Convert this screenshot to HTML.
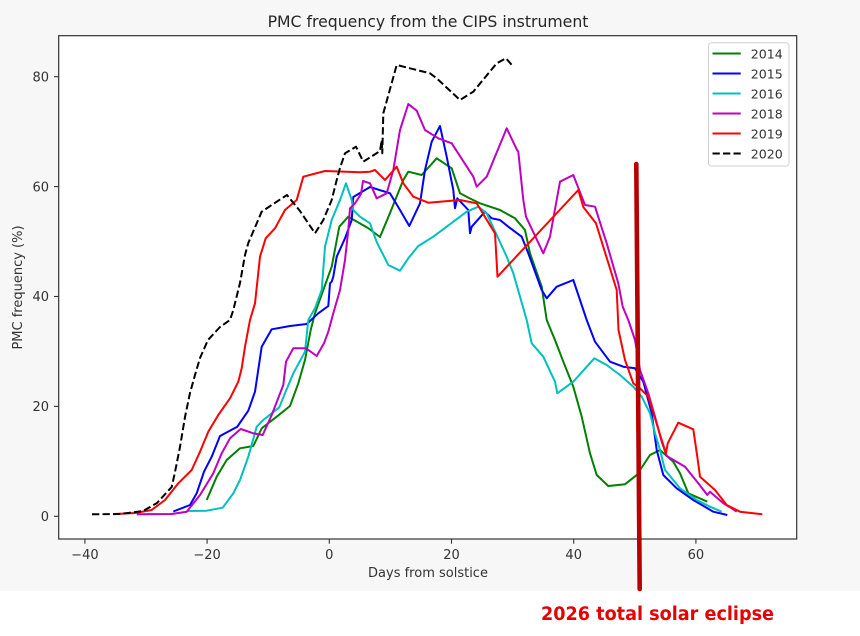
<!DOCTYPE html>
<html>
<head>
<meta charset="utf-8">
<style>
  html, body { margin: 0; padding: 0; background: #ffffff; }
  svg { display: block; }
  text { font-family: "DejaVu Sans", "Liberation Sans", sans-serif; }
</style>
</head>
<body>
<svg width="860" height="636" viewBox="0 0 860 636" xmlns="http://www.w3.org/2000/svg">
  <!-- figure background -->
  <rect x="0" y="0" width="860" height="636" fill="#ffffff"/>
  <rect x="0" y="0" width="860" height="591" fill="#f7f7f7"/>
  <!-- axes background -->
  <rect x="58.7" y="35.7" width="738" height="503.3" fill="#ffffff"/>

  <!-- title -->
  <text x="428" y="27" font-size="15.7" fill="#262626" text-anchor="middle">PMC frequency from the CIPS instrument</text>

  <!-- series -->
  <g fill="none" stroke-width="2" stroke-linejoin="round" stroke-linecap="butt">
    <!-- 2014 green -->
    <polyline stroke="#008000" points="206.7,500 216.7,476.7 226.7,460 240,448.3 253.3,446 261.7,428.3 276.7,416.7 290,406 298.3,383.3 305,360 310.7,330 315,313.3 323.3,290 331.7,266.7 339.3,226.7 348.3,216.7 368,228 380,237 390,213 403.3,180 408.3,171.7 421.7,175 436.7,158.3 451.7,168.3 460,193.3 470,198.5 480,203.3 500,210 515,218.3 525,230 530,253.3 541.7,286.7 546.7,320 555,340 563.3,361.7 573.3,386.7 581.7,416.7 590,453.3 596.7,475 608.3,486 625,484.3 636.7,475 650,455 660,450 673.3,461.7 680,473.3 688.3,493.3 707.3,501.7"/>
    <!-- 2015 blue -->
    <polyline stroke="#0000ff" points="173.3,511.5 190,505 196.7,493.3 204,471.7 211.7,456.7 220,436 237.3,426.7 248.3,410.7 255,391.7 261.7,346.7 271.7,329.3 290,326 306.7,324 318.3,313.3 328.3,306 330,283.3 331.7,281.7 333.3,276.7 336.7,256.7 345,238.3 351.7,220 353.3,197 370,187 390,193.3 400,210 409.3,226 420,203.3 425,170 431.7,141.7 440,126 446.7,156.7 453.3,190 455,208.3 457.3,198.3 468.3,210 470,233.3 471.7,226.7 485,211.7 491.7,218.3 500,220 508.3,226.7 515,231.7 521.7,236.7 528.3,253.3 535,271.7 541.7,290 546.7,298.3 556.7,286.7 573.3,280 586.7,320 595,341.7 610,361.7 623.3,366.7 635,368.3 643.3,381.7 651.7,413.3 656.7,450 663.3,475 676.7,488.3 693.3,500 713.3,511.7 727.3,515"/>
    <!-- 2016 cyan -->
    <polyline stroke="#00bfbf" points="186.7,511 206.7,510.7 222.7,507.7 233.3,493.3 240,480 248.3,456.7 256.7,426.7 263.3,420 279.3,407.3 285,393.3 293.3,373.3 305,351.7 308.3,320 315,308.3 321.7,290 325,246.7 331.7,220 340,200 346,183.3 351.7,200 353.3,210 360,216.7 370,223.3 376.7,242 388.3,265 400,270.7 408.3,258.3 418.3,246 433.3,236.7 466.7,211.7 478.3,206.7 486.7,213.3 496.7,235 506.7,256.7 513.3,273.3 526.7,320 531.7,343.3 543.3,356.7 555,381.7 557.3,393.3 573.3,381.7 594.3,358.3 606.7,365 620,375 633.3,386.7 641.7,396.7 650,413.3 655,433.3 660,450 665,470 680,488.3 696.7,500 710,506.7 721.7,511.7"/>
    <!-- 2018 magenta -->
    <polyline stroke="#bf00bf" points="136.7,514.3 171.7,514 186.7,511.7 200,495 213.3,473.3 221.7,453.3 230,438.3 240.7,429 253.3,433.3 262.7,435 271.7,415 283.3,385 286,361.7 293.3,348.3 306,348.3 316.7,356 324,343.3 328.3,331.7 333.3,313.3 340,290 345,260 348.3,230 350,208.3 355,203.3 361,194 363,181 370,183.3 376.7,198.3 386.7,193.3 393.3,170 400,130 408.3,104 416.7,110.7 425,130 438.3,138.3 451.7,143.3 473.3,176.7 476.7,186.7 486.7,176.7 506.7,128.3 516.7,149.3 518.3,151.7 523.3,200 526,216.7 543.3,253.3 550,236.7 560,181.7 573.3,175 585,205 595,206.7 606.7,243.3 618.3,283.3 622.7,306.7 628.3,320 635,340 640,370 648.3,393.3 655,416.7 661.7,441.7 666.7,456 685,466.7 698.3,483.3 707.3,495 710,491.7 723.3,503.3 731.7,508.3 736.7,511.7"/>
    <!-- 2019 red -->
    <polyline stroke="#ff0000" points="115,514 135,513 151.7,510 165,500 178.3,483.3 191.7,470 200,451.7 208.3,431.7 218.3,415 230,398.3 238.3,381.7 241.7,368.3 245,346.7 250,320 255,303.3 260,256.7 265.7,238.3 275,228.3 285,210 296.7,200 303.3,176.7 325,171 360,172.3 370,171.7 375,170 385,180 396.7,166.7 403.3,183.3 413.3,196.7 428.3,202.7 460,200 476.7,203.3 495,233.3 497.5,276.7 578.3,190 583.3,207 596,223.3 616.7,290 618.5,330 625,360 633.3,383.3 640,388.3 648.3,396.7 655,418.3 661.7,440 666,453.3 667.7,443.3 678.3,422.7 693.3,429.3 697.3,456.7 700,476.7 715,490 726.7,505 740,511.7 762.3,514.3"/>
    <!-- 2020 black dashed -->
    <polyline stroke="#000000" stroke-dasharray="7.3 3.2" points="92,514.3 120,514 143,511 157,503 171.7,487 175,472 180,447 185,417 190,393 195,375 200,358 208,340 220,327 230,320 233.3,310 240,283 245,255 248.3,243 261.7,211.7 276.7,201.7 287,195 300,211 315,233.3 323.3,220 331.7,200 336.7,180 340,168 345,153.3 356,146.7 363.3,161.7 380,151 381.7,140 382.3,153.3 383.3,113.3 396.7,65 410,68.3 430,73.3 436.7,78.3 460,100 473.3,91.7 496.7,63.3 506,58.3 513.3,66.7"/>
  </g>

  <!-- spines -->
  <rect x="58.7" y="35.7" width="738" height="503.3" fill="none" stroke="#333333" stroke-width="1.2"/>

  <!-- x ticks -->
  <g stroke="#333333" stroke-width="1.1">
    <line x1="84.9" y1="539" x2="84.9" y2="543.7"/>
    <line x1="207.1" y1="539" x2="207.1" y2="543.7"/>
    <line x1="329.3" y1="539" x2="329.3" y2="543.7"/>
    <line x1="451.5" y1="539" x2="451.5" y2="543.7"/>
    <line x1="573.7" y1="539" x2="573.7" y2="543.7"/>
    <line x1="695.9" y1="539" x2="695.9" y2="543.7"/>
  </g>
  <g font-size="13" fill="#333333" text-anchor="middle">
    <text x="84.9" y="559">−40</text>
    <text x="207.1" y="559">−20</text>
    <text x="329.3" y="559">0</text>
    <text x="451.5" y="559">20</text>
    <text x="573.7" y="559">40</text>
    <text x="695.9" y="559">60</text>
  </g>
  <text x="428" y="577" font-size="13" fill="#333333" text-anchor="middle">Days from solstice</text>

  <!-- y ticks -->
  <g stroke="#333333" stroke-width="1.1">
    <line x1="54" y1="516.3" x2="58.7" y2="516.3"/>
    <line x1="54" y1="406.4" x2="58.7" y2="406.4"/>
    <line x1="54" y1="296.5" x2="58.7" y2="296.5"/>
    <line x1="54" y1="186.6" x2="58.7" y2="186.6"/>
    <line x1="54" y1="76.7" x2="58.7" y2="76.7"/>
  </g>
  <g font-size="13" fill="#333333" text-anchor="end">
    <text x="49" y="521">0</text>
    <text x="49" y="411.1">20</text>
    <text x="49" y="301.2">40</text>
    <text x="49" y="191.3">60</text>
    <text x="49" y="81.4">80</text>
  </g>
  <text transform="translate(22,287.5) rotate(-90)" font-size="13" fill="#333333" text-anchor="middle">PMC frequency (%)</text>

  <!-- legend -->
  <rect x="708.5" y="42.7" width="80.5" height="123.3" rx="3" ry="3" fill="#ffffff" fill-opacity="0.85" stroke="#d0d0d0" stroke-width="1"/>
  <g stroke-width="2" fill="none">
    <line x1="712.5" y1="53.5" x2="740.7" y2="53.5" stroke="#008000"/>
    <line x1="712.5" y1="73.5" x2="740.7" y2="73.5" stroke="#0000ff"/>
    <line x1="712.5" y1="93.5" x2="740.7" y2="93.5" stroke="#00bfbf"/>
    <line x1="712.5" y1="113.5" x2="740.7" y2="113.5" stroke="#bf00bf"/>
    <line x1="712.5" y1="133.5" x2="740.7" y2="133.5" stroke="#ff0000"/>
    <line x1="712.5" y1="153.5" x2="740.7" y2="153.5" stroke="#000000" stroke-dasharray="7.3 3.2"/>
  </g>
  <g font-size="12.6" fill="#333333">
    <text x="750.7" y="58.3">2014</text>
    <text x="750.7" y="78.3">2015</text>
    <text x="750.7" y="98.3">2016</text>
    <text x="750.7" y="118.3">2018</text>
    <text x="750.7" y="138.3">2019</text>
    <text x="750.7" y="158.3">2020</text>
  </g>

  <!-- eclipse marker -->
  <line x1="636.3" y1="164" x2="639.7" y2="589" stroke="#b80000" stroke-width="4.6" stroke-linecap="round"/>
  <text x="541" y="620" font-size="18.5" font-weight="bold" fill="#e60000" textLength="233" lengthAdjust="spacingAndGlyphs">2026 total solar eclipse</text>
</svg>
</body>
</html>
